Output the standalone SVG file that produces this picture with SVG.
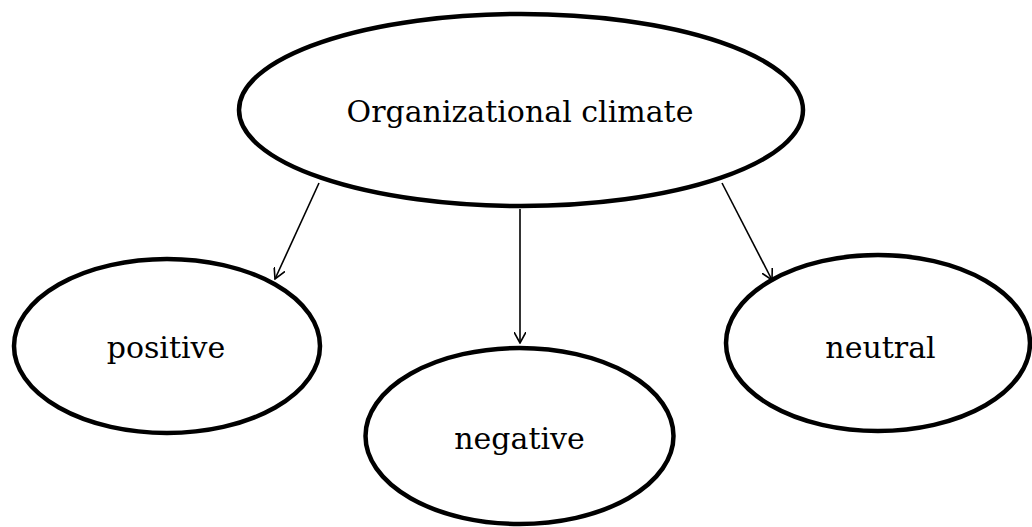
<svg xmlns="http://www.w3.org/2000/svg" width="1032" height="527" viewBox="0 0 1032 527">
<defs>
<style>
.node ellipse{fill:#fff;stroke:#000;stroke-width:4.5}
.node text{font-family:"DejaVu Serif","Liberation Serif",serif;font-size:30px;fill:#000;text-anchor:middle}
.edges line{stroke:#000;stroke-width:1.6;fill:none}
</style>
<marker id="arr" viewBox="0 0 12 12" refX="11" refY="6" markerWidth="12" markerHeight="12" markerUnits="userSpaceOnUse" orient="auto">
<path d="M0,0 L11,6 L0,12" fill="none" stroke="#000" stroke-width="1.6"/>
</marker>
</defs>
<rect width="1032" height="527" fill="#fff"/>
<g id="n-org" class="node">
<ellipse cx="521" cy="110" rx="282" ry="96"/>
<text x="520" y="122">Organizational climate</text>
</g>
<g id="n-positive" class="node">
<ellipse cx="167" cy="346" rx="153" ry="87"/>
<text x="166" y="358">positive</text>
</g>
<g id="n-negative" class="node">
<ellipse cx="519.5" cy="436" rx="154" ry="88"/>
<text x="519.5" y="449">negative</text>
</g>
<g id="n-neutral" class="node">
<ellipse cx="878" cy="343" rx="152" ry="88"/>
<text x="880.5" y="358">neutral</text>
</g>
<g id="edges" class="edges">
<line x1="319" y1="183" x2="275" y2="279" marker-end="url(#arr)"/>
<line x1="520" y1="209" x2="520" y2="343" marker-end="url(#arr)"/>
<line x1="722" y1="183" x2="772" y2="280" marker-end="url(#arr)"/>
</g>
</svg>
